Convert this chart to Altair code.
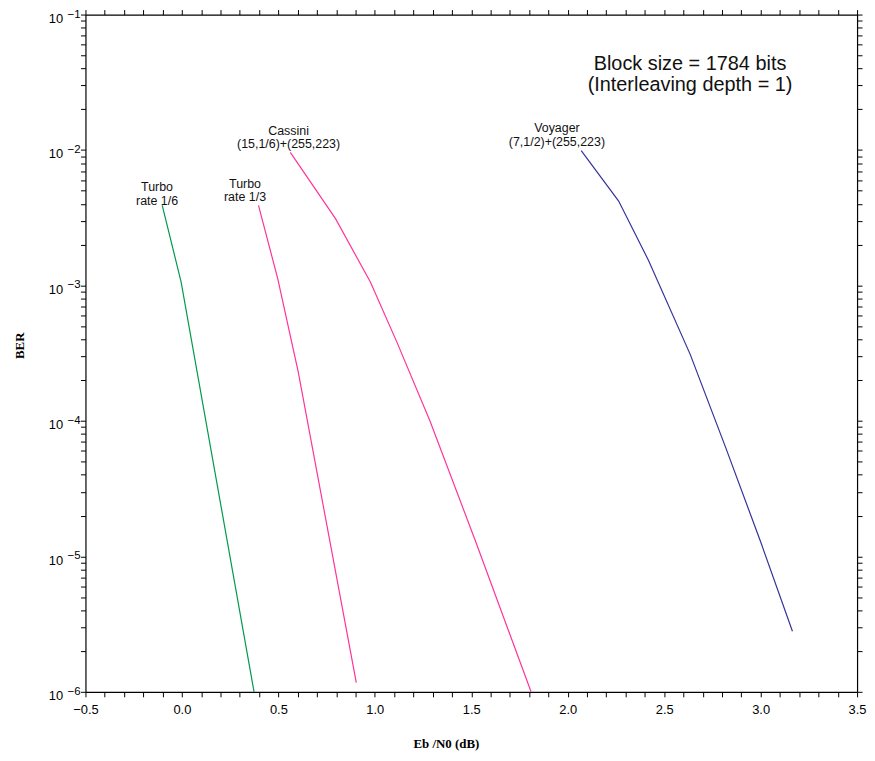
import altair as alt
import pandas as pd

# ---- data ----
turbo16_x = [-0.102, -0.004, 0.374]
turbo16_y = [3.9e-3, 1.06e-3, 1.0e-6]

turbo13_x = [0.397, 0.497, 0.603, 0.904]
turbo13_y = [3.9e-3, 1.12e-3, 2.3e-4, 1.17e-6]

cassini_x = [0.562, 0.797, 0.977, 1.115, 1.286, 1.527, 1.810]
cassini_y = [9.6e-3, 3.1e-3, 1.06e-3, 3.8e-4, 1.0e-4, 1.24e-5, 1.0e-6]

voyager_x = [2.07, 2.264, 2.419, 2.635, 2.820, 3.001, 3.165]
voyager_y = [9.9e-3, 4.2e-3, 1.53e-3, 3.1e-4, 6.3e-5, 1.27e-5, 2.8e-6]

series_names = ["Turbo rate 1/6", "Turbo rate 1/3", "Cassini", "Voyager"]
series_colors = ["#00994d", "#ff3399", "#ff3399", "#33339a"]

label_text = ["Turbo\nrate 1/6", "Turbo\nrate 1/3",
              "Cassini\n(15,1/6)+(255,223)", "Voyager\n(7,1/2)+(255,223)"]
label_x = [-0.129, 0.327, 0.553, 1.944]
label_y = [5.3e-3, 5.6e-3, 1.38e-2, 1.45e-2]

note_text = ["Block size = 1784 bits\n(Interleaving depth = 1)"]
note_x = [2.634]
note_y = [4.34e-2]

decades = [1e-1, 1e-2, 1e-3, 1e-4, 1e-5, 1e-6]
exponents = ["\u22121", "\u22122", "\u22123", "\u22124", "\u22125", "\u22126"]

x_ticks = [round(-0.5 + 0.1 * i, 1) for i in range(41)]
y_ticks = [k * 10.0 ** n for n in range(-6, -1) for k in range(1, 10)] + [0.1]

# ---- tables ----
rows = []
for name, xs, ys in zip(series_names,
                        [turbo16_x, turbo13_x, cassini_x, voyager_x],
                        [turbo16_y, turbo13_y, cassini_y, voyager_y]):
    for i, (x, y) in enumerate(zip(xs, ys)):
        rows.append({"series": name, "x": x, "y": y, "i": i})
df = pd.DataFrame(rows)
labels_df = pd.DataFrame({"text": label_text, "x": label_x, "y": label_y})
note_df = pd.DataFrame({"text": note_text, "x": note_x, "y": note_y})
exp_df = pd.DataFrame({"y": decades, "text": exponents})

xscale = alt.Scale(domain=[-0.5, 3.5], nice=False, zero=False)
yscale = alt.Scale(type="log", domain=[1e-6, 1e-1], nice=False)

LAB_FONT = "Liberation Sans"

x_axis = alt.Axis(
    orient="bottom",
    values=x_ticks,
    labelExpr="abs(datum.value*2 - round(datum.value*2)) < 0.001 ? format(datum.value, '.1f') : ''",
    title="Eb /N0 (dB)", titleFont="Liberation Serif", titleFontWeight="bold",
    titleFontSize=13, titleX=363, titlePadding=21, titleColor="#000",
    labelFont=LAB_FONT, labelFontSize=13, labelColor="#000", labelPadding=7,
    labelFlush=False, labelOverlap=False,
    tickSize=5, tickColor="#000", domainColor="#000", domainWidth=1.2, tickWidth=1,
    grid=False,
)
y_axis = alt.Axis(
    orient="left",
    values=y_ticks,
    labelExpr="abs(log(datum.value)/LN10 - round(log(datum.value)/LN10)) < 0.001 ? '10' : ''",
    title="BER", titleFont="Liberation Serif", titleFontWeight="bold",
    titleFontSize=13, titleColor="#000", titlePadding=22, titleY=333,
    labelFont=LAB_FONT, labelFontSize=13, labelColor="#000", labelPadding=18,
    labelOffset=4, labelOverlap=False, labelFlush=False,
    tickSize=5, tickColor="#000", domainColor="#000", domainWidth=1.2, tickWidth=1,
    grid=False,
)
x_axis_top = alt.Axis(values=x_ticks, orient="top", labels=False, title=None,
                      tickSize=5, tickColor="#000", domainColor="#000",
                      domainWidth=1.2, tickWidth=1, grid=False)
y_axis_right = alt.Axis(values=y_ticks, orient="right", labels=False, title=None,
                        tickSize=5, tickColor="#000", domainColor="#000",
                        domainWidth=1.2, tickWidth=1, grid=False)

lines = alt.Chart(df).mark_line(strokeWidth=1.2).encode(
    x=alt.X("x:Q", scale=xscale, axis=x_axis),
    y=alt.Y("y:Q", scale=yscale, axis=y_axis),
    color=alt.Color("series:N", scale=alt.Scale(domain=series_names, range=series_colors), legend=None),
    detail="series:N",
    order="i:Q",
)

mirror = alt.Chart(df).mark_line(opacity=0).encode(
    x=alt.X("x:Q", scale=xscale, axis=x_axis_top),
    y=alt.Y("y:Q", scale=yscale, axis=y_axis_right),
    detail="series:N",
)

labels = alt.Chart(labels_df).mark_text(
    font=LAB_FONT, fontSize=12.5, lineBreak="\n", lineHeight=13.5,
    align="center", baseline="middle", color="#111"
).encode(
    x=alt.X("x:Q", scale=xscale, axis=None),
    y=alt.Y("y:Q", scale=yscale, axis=None),
    text="text:N",
)

note = alt.Chart(note_df).mark_text(
    font=LAB_FONT, fontSize=20, lineBreak="\n", lineHeight=21.5,
    align="center", baseline="middle", color="#111"
).encode(
    x=alt.X("x:Q", scale=xscale, axis=None),
    y=alt.Y("y:Q", scale=yscale, axis=None),
    text="text:N",
)

exps = alt.Chart(exp_df).mark_text(
    font=LAB_FONT, fontSize=11.5, align="right", baseline="middle",
    dx=-5, dy=0, color="#000"
).encode(
    x=alt.value(0),
    y=alt.Y("y:Q", scale=yscale, axis=None),
    text="text:N",
)

chart = alt.layer(lines, mirror, labels, note, exps).resolve_axis(
    x="independent", y="independent"
).properties(
    width=777, height=682,
    padding={"left": 5, "top": -2, "right": 0, "bottom": 0},
).configure_view(strokeWidth=0)

chart.save("out.html", embed_options={"renderer": "svg", "actions": False})
